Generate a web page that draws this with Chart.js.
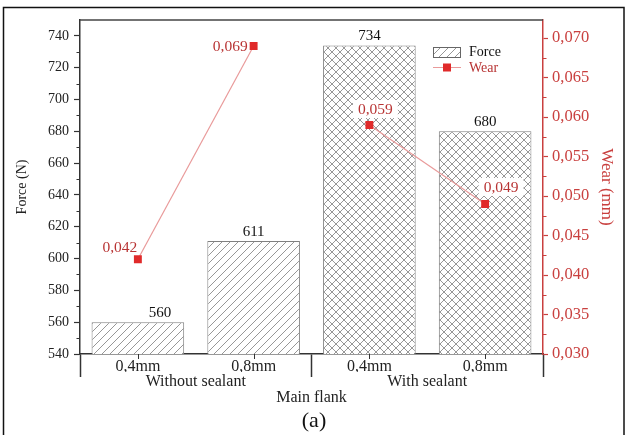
<!DOCTYPE html>
<html>
<head>
<meta charset="utf-8">
<script src="https://cdn.jsdelivr.net/npm/chart.js@4.4.0/dist/chart.umd.min.js"></script>
<style>
html, body { margin: 0; padding: 0; background: #fff; }
</style>
</head>
<body>
<canvas id="myChart" width="628" height="435"></canvas>
<script>
// data
var sizes = ['0,4mm', '0,8mm', '0,4mm', '0,8mm'];
var groups = ['Without sealant', 'With sealant'];
var force = [560, 611, 734, 680];
var wear = [0.042, 0.069, 0.059, 0.049];
var forceRange = [540, 750];
var wearRange = [0.030, 0.0723];

var SERIF = '"Liberation Serif", "DejaVu Serif", serif';
var RED = '#c9403f';
var LINE_RED = '#e99a9a';

var canvas = document.getElementById('myChart');
var ctx = canvas.getContext('2d');

function hatch(cross) {
    var s = 8;
    var c = document.createElement('canvas');
    c.width = s; c.height = s;
    var g = c.getContext('2d');
    g.fillStyle = '#fff';
    g.fillRect(0, 0, s, s);
    g.strokeStyle = '#6a6a6a';
    g.lineWidth = 0.7;
    g.beginPath();
    g.moveTo(-1, s + 1); g.lineTo(s + 1, -1);
    g.moveTo(-2, 2); g.lineTo(2, -2);
    g.moveTo(s - 2, s + 2); g.lineTo(s + 2, s - 2);
    if (cross) {
        g.moveTo(-1, -1); g.lineTo(s + 1, s + 1);
        g.moveTo(-2, s - 2); g.lineTo(2, s + 2);
        g.moveTo(s - 2, -2); g.lineTo(s + 2, 2);
    }
    g.stroke();
    return ctx.createPattern(c, 'repeat');
}

var diag = hatch(false);
var cross = hatch(true);

function fmt(v) {
    return v.toFixed(3).replace('.', ',');
}

// outer frame + top border of the plot
var framePlugin = {
    id: 'frame',
    beforeDraw: function (chart) {
        var c = chart.ctx;
        c.save();
        c.strokeStyle = '#111';
        c.lineWidth = 1.5;
        c.strokeRect(3.5, 7.5, 620.5, 440);
        c.restore();
    },
    afterDraw: function (chart) {
        var c = chart.ctx, a = chart.chartArea;
        c.save();
        c.strokeStyle = '#444';
        c.lineWidth = 1.5;
        c.beginPath();
        c.moveTo(a.left, a.top);
        c.lineTo(a.right, a.top);
        c.stroke();

        // minor ticks
        var y = chart.scales.y, y1 = chart.scales.y1, x = chart.scales.x;
        c.lineWidth = 1;
        c.strokeStyle = '#333';
        c.beginPath();
        for (var v = 550; v < forceRange[1]; v += 20) {
            var py = Math.round(y.getPixelForValue(v)) + 0.5;
            c.moveTo(a.left - 3.5, py); c.lineTo(a.left, py);
        }
        for (var i = 0; i < sizes.length; i++) {
            var px = Math.round(x.getPixelForValue(i)) + 0.5;
            c.moveTo(px, a.bottom); c.lineTo(px, a.bottom + 5);
        }
        c.stroke();
        c.strokeStyle = RED;
        c.beginPath();
        for (var w = 0.0325; w < wearRange[1]; w += 0.005) {
            var pw = Math.round(y1.getPixelForValue(w)) + 0.5;
            c.moveTo(a.right, pw); c.lineTo(a.right + 3.5, pw);
        }
        c.stroke();
        c.restore();
    }
};

// value labels
var labelPlugin = {
    id: 'valueLabels',
    afterDatasetsDraw: function (chart) {
        var c = chart.ctx;
        c.save();
        c.font = '15px ' + SERIF;
        c.textAlign = 'center';
        c.textBaseline = 'bottom';
        c.fillStyle = '#111';
        var barShift = [22, 0, 0, 0];
        chart.getDatasetMeta(0).data.forEach(function (bar, i) {
            c.fillText(String(force[i]), bar.x + barShift[i], bar.y - 2);
        });

        var off = [[-18, -12], [-21, 0], [6, -16], [16, -17]];
        c.font = '15.5px ' + SERIF;
        c.textBaseline = 'middle';
        chart.getDatasetMeta(1).data.forEach(function (pt, i) {
            var t = fmt(wear[i]);
            var tx = pt.x + off[i][0], ty = pt.y + off[i][1];
            var tw = c.measureText(t).width;
            if (i === 1) tx = pt.x - 6 - tw / 2;
            if (i >= 2) {
                c.fillStyle = '#fff';
                c.fillRect(tx - tw / 2 - 5, ty - 9, tw + 10, 18);
            }
            c.fillStyle = '#b83434';
            c.fillText(t, tx, ty + 1);
        });
        c.restore();
    }
};

// legend inside the plot
var legendPlugin = {
    id: 'innerLegend',
    afterDraw: function (chart) {
        var c = chart.ctx;
        var ds = chart.data.datasets;
        c.save();
        c.fillStyle = diag;
        c.fillRect(433, 47, 27, 10);
        c.strokeStyle = '#666';
        c.lineWidth = 1;
        c.strokeRect(433.5, 47.5, 27, 10);
        c.strokeStyle = LINE_RED;
        c.beginPath();
        c.moveTo(433, 67.5); c.lineTo(461, 67.5);
        c.stroke();
        c.fillStyle = '#e02a2a';
        c.fillRect(443, 63.5, 8, 8);
        c.font = '14px ' + SERIF;
        c.textBaseline = 'middle';
        c.textAlign = 'left';
        c.fillStyle = '#111';
        c.fillText(ds[0].label, 469, 52);
        c.fillStyle = '#b83434';
        c.fillText(ds[1].label, 469, 68);
        c.restore();
    }
};

var tickFont = { family: SERIF, size: 14 };
var catFont = { family: SERIF, size: 16 };

var chart = new Chart(ctx, {
    type: 'bar',
    data: {
        labels: sizes,
        datasets: [
            {
                label: 'Force',
                data: force,
                yAxisID: 'y',
                backgroundColor: [diag, diag, cross, cross],
                borderColor: '#808080',
                borderWidth: 1,
                barPercentage: 0.8,
                categoryPercentage: 1,
                order: 1
            },
            {
                type: 'line',
                label: 'Wear',
                data: wear,
                yAxisID: 'y1',
                borderColor: LINE_RED,
                borderWidth: 1.2,
                pointStyle: 'rect',
                pointRadius: 5.6,
                pointBackgroundColor: '#e02a2a',
                pointBorderColor: '#e02a2a',
                pointBorderWidth: 0,
                segment: {
                    borderColor: function (s) { return s.p0DataIndex === 1 ? 'rgba(0,0,0,0)' : LINE_RED; }
                },
                order: 0
            }
        ]
    },
    options: {
        responsive: false,
        animation: false,
        layout: { padding: { top: 20, left: 0, right: 0, bottom: 0 } },
        plugins: {
            legend: { display: false },
            tooltip: { enabled: false },
            title: {
                display: true,
                position: 'bottom',
                text: '(a)',
                color: '#111',
                font: { family: SERIF, size: 22, weight: 'normal' },
                padding: { top: 0, bottom: 1 }
            }
        },
        scales: {
            x: {
                type: 'category',
                offset: true,
                grid: {
                    offset: true,
                    drawOnChartArea: false,
                    tickLength: 23,
                    tickWidth: 1.5,
                    color: '#333',
                    tickColor: function (c) { return (c.index === 1 || c.index === 3) ? 'rgba(0,0,0,0)' : '#333'; }
                },
                border: { color: '#333', width: 1.5 },
                ticks: { color: '#222', font: catFont, padding: -20, maxRotation: 0 },
                afterFit: function (s) { s.height = 18; }
            },
            x2: {
                type: 'category',
                labels: groups,
                position: 'bottom',
                weight: 1,
                offset: true,
                grid: { display: false, drawTicks: false },
                border: { display: false },
                ticks: { color: '#222', font: catFont, padding: 0, maxRotation: 0 },
                title: {
                    display: true,
                    text: 'Main flank',
                    color: '#222',
                    font: { family: SERIF, size: 16 },
                    padding: { top: 0, bottom: 0 }
                },
                afterFit: function (s) { s.height = 35.6; }
            },
            y: {
                position: 'left',
                min: forceRange[0],
                max: forceRange[1],
                ticks: { stepSize: 20, includeBounds: false, color: '#222', font: tickFont, padding: 5 },
                grid: { drawOnChartArea: false, tickLength: 6, color: '#333', tickWidth: 1.2 },
                border: { color: '#333', width: 1.5 },
                title: {
                    display: true,
                    text: 'Force (N)',
                    color: '#222',
                    font: { family: SERIF, size: 14 },
                    padding: { top: 14, bottom: 0 }
                },
                afterFit: function (s) { s.width = 80; }
            },
            y1: {
                position: 'right',
                min: wearRange[0],
                max: wearRange[1],
                ticks: {
                    stepSize: 0.005,
                    includeBounds: false,
                    color: RED,
                    font: { family: SERIF, size: 16.5 },
                    padding: 4,
                    callback: function (v) { return fmt(v); }
                },
                grid: { drawOnChartArea: false, tickLength: 5, color: RED, tickWidth: 1.2 },
                border: { color: RED, width: 1.5 },
                title: {
                    display: true,
                    text: 'Wear (mm)',
                    color: RED,
                    font: { family: SERIF, size: 17 },
                    padding: { top: 11, bottom: 0 }
                },
                afterFit: function (s) { s.width = 85; }
            }
        }
    },
    plugins: [framePlugin, labelPlugin, legendPlugin]
});
</script>
</body>
</html>
